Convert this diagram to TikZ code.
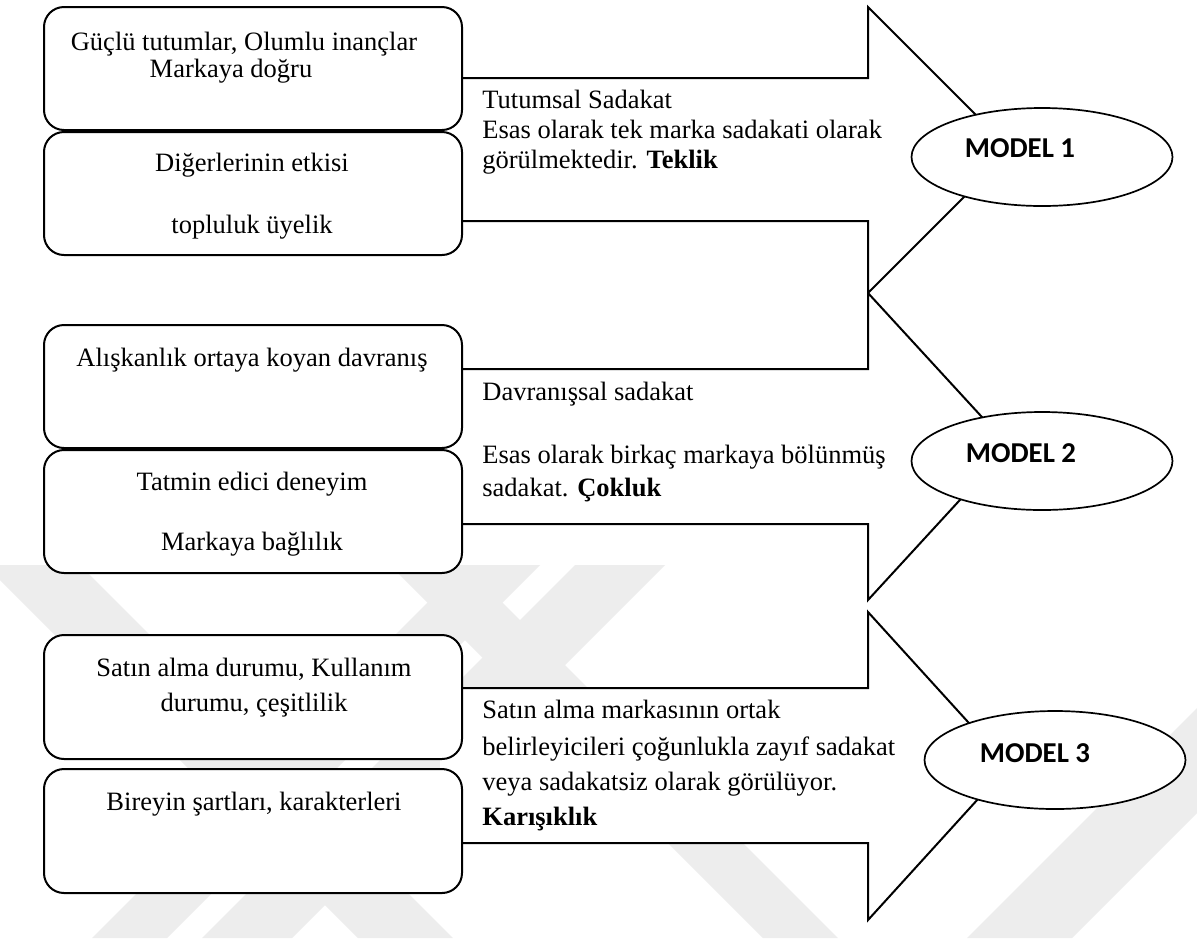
\documentclass[tikz,border=0pt]{standalone}
\usepackage{fontspec}
\setmainfont{Liberation Serif}
\newfontfamily\modelfont{Carlito}[BoldFont={Carlito Bold}]
\usetikzlibrary{shapes.geometric}

\def\pxu{*0.5pt}
\definecolor{markgray}{HTML}{EDEDED}
\tikzset{
  outline/.style={draw=black, line width=1pt, fill=white},
  itembox/.style={outline, rounded corners=10pt},
  shaft/.style={draw=black, line width=1pt, line join=miter},
  modelnode/.style={ellipse, draw=black, line width=0.85pt, fill=white,
    minimum width=261\pxu, minimum height=98\pxu, inner sep=0pt},
  boxtext/.style={anchor=base, inner sep=0pt,
    font=\fontsize{13.25pt}{15pt}\selectfont},
  arrowtext/.style={anchor=base west, inner sep=0pt,
    font=\fontsize{13.25pt}{15pt}\selectfont},
  modeltext/.style={anchor=base, inner sep=0pt,
    font=\modelfont\bfseries\fontsize{14.4pt}{16pt}\selectfont},
}

\begin{document}
\begin{tikzpicture}[x=0.5pt, y=-0.5pt]
\useasboundingbox (0,0) rectangle (1197,938);
\fill[white] (0,0) rectangle (1197,938);

% ---- faint diagonal stripes in the background
\begin{scope}
  \clip (0,565) rectangle (1197,938);
  % falling stripes, x - y = k
  \foreach \ka/\kb in {-580/-485, -175/-100}{
    \fill[markgray] (\ka+565,565) -- (\kb+565,565) -- (\kb+938,938) -- (\ka+938,938) -- cycle;
  }
  % rising stripes, x + y = c
  \foreach \ca/\cb in {1030/1105, 1140/1230, 1905/2010}{
    \fill[markgray] (\ca-565,565) -- (\cb-565,565) -- (\cb-938,938) -- (\ca-938,938) -- cycle;
  }
\end{scope}

% ---- block arrows (drawn first, boxes sit over their tails)
\foreach \t/\b/\ht/\hb/\tip in
  {78/221/7/293/1011, 369/524/293/600/1009, 688/843/612/920/1008}{
  \pgfmathsetmacro\mid{(\ht+\hb)/2}
  \fill[white] (440,\t) -- (868,\t) -- (868,\ht) -- (\tip,\mid)
     -- (868,\hb) -- (868,\b) -- (440,\b) -- cycle;
  \draw[shaft] (440,\t) -- (868,\t) -- (868,\ht) -- (\tip,\mid)
     -- (868,\hb) -- (868,\b) -- (440,\b);
}

% ---- left hand boxes
\draw[itembox] (44,7)   rectangle (462,130);
\draw[itembox] (44,132) rectangle (462,255);
\draw[itembox] (44,325) rectangle (462,448);
\draw[itembox] (44,450) rectangle (462,573);
\draw[itembox] (44,635) rectangle (462,759);
\draw[itembox] (44,769) rectangle (462,893);

\node[boxtext] (t1a) at (244,50)  {Güçlü tutumlar, Olumlu inançlar};
\node[boxtext] (t1b) at (231,77)  {Markaya doğru};
\node[boxtext] (t2a) at (252,171) {Diğerlerinin etkisi};
\node[boxtext] (t2b) at (252,233) {topluluk üyelik};
\node[boxtext] (t3a) at (252,366) {Alışkanlık ortaya koyan davranış};
\node[boxtext] (t4a) at (252,490) {Tatmin edici deneyim};
\node[boxtext] (t4b) at (252,550) {Markaya bağlılık};
\node[boxtext] (t5a) at (254,676) {Satın alma durumu, Kullanım};
\node[boxtext] (t5b) at (254,711) {durumu, çeşitlilik};
\node[boxtext] (t6a) at (254,810) {Bireyin şartları, karakterleri};

% ---- texts inside the arrow shafts
\node[arrowtext] (a1a) at (482,108) {Tutumsal Sadakat};
\node[arrowtext] (a1b) at (482,138) {Esas olarak tek marka sadakati olarak};
\node[arrowtext] (a1c) at (482,168) {görülmektedir. \textbf{Teklik}};
\node[arrowtext] (a2a) at (482,400) {Davranışsal sadakat};
\node[arrowtext] (a2b) at (482,463) {Esas olarak birkaç markaya bölünmüş};
\node[arrowtext] (a2c) at (482,496) {sadakat. \textbf{Çokluk}};
\node[arrowtext] (a3a) at (482,718) {Satın alma markasının ortak};
\node[arrowtext] (a3b) at (482,755) {belirleyicileri çoğunlukla zayıf sadakat};
\node[arrowtext] (a3c) at (482,790) {veya sadakatsiz olarak görülüyor.};
\node[arrowtext] (a3d) at (482,825) {\textbf{Karışıklık}};

% ---- model ellipses
\node[modelnode] (m1) at (1042,157) {};
\node[modelnode] (m2) at (1042,461) {};
\node[modelnode] (m3) at (1055,760) {};
\node[modeltext] (m1t) at (1020,157) {MODEL 1};
\node[modeltext] (m2t) at (1021,462) {MODEL 2};
\node[modeltext] (m3t) at (1035,762) {MODEL 3};
\end{tikzpicture}
\end{document}
